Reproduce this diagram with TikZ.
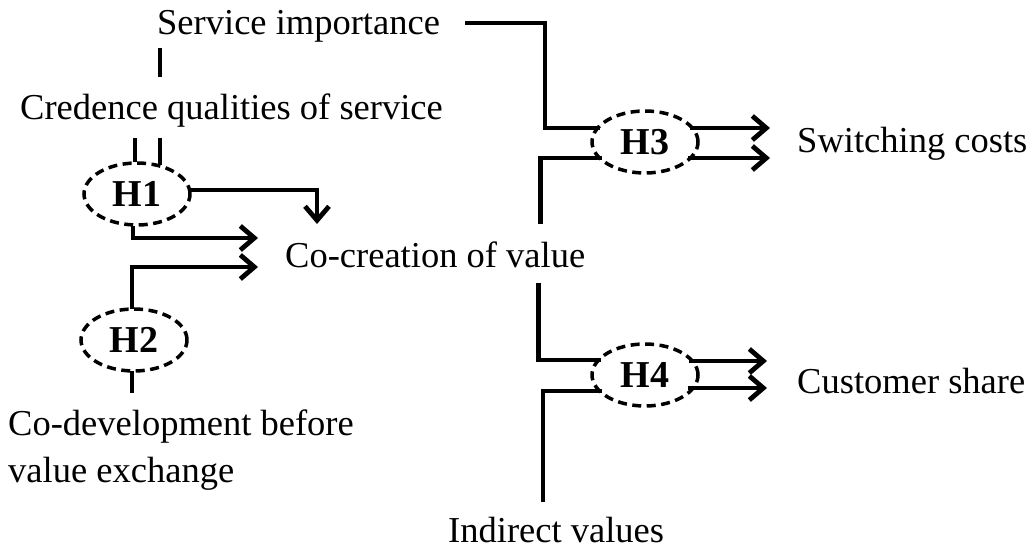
\documentclass[tikz,border=0pt]{standalone}
\usepackage{fontspec}
\setmainfont{Liberation Serif}
\usetikzlibrary{shapes.geometric,arrows.meta,calc}
\begin{document}
\begin{tikzpicture}[x=1pt,y=-1pt,
  lbl/.style={inner sep=0pt, anchor=base west, font=\fontsize{36.5}{47}\selectfont},
  hyp/.style={ellipse, draw, line width=3.5pt, dash pattern=on 9pt off 5.5pt,
    inner sep=0pt, minimum width=106pt, minimum height=62pt,
    font=\fontsize{38}{44}\selectfont\bfseries},
  link/.style={line width=4.8pt},
  arr/.style={link, -{Straight Barb[length=14pt,width=24pt]}}]
\useasboundingbox (0,0) rectangle (1033,548);

% constructs
\node[lbl] (si) at (157,35) {Service importance};
\node[lbl] (cred) at (20,120) {Credence qualities of service};
\node[lbl] (cc) at (285,267) {Co-creation of value};
\node[lbl, anchor=north west, align=left] (codev) at (8,410) {Co-development before\\value exchange};
\node[lbl] (iv) at (448,542) {Indirect values};
\node[lbl] (sc) at (797,153) {Switching costs};
\node[lbl] (cs) at (797,393) {Customer share};

% hypotheses
\node[hyp] (h1) at (137,194) {H1};
\node[hyp] (h2) at (134,340) {H2};
\node[hyp] (h3) at (645,142) {H3};
\node[hyp] (h4) at (645,375) {H4};

% H1: credence qualities, moderated by service importance
\draw[link] ($(si.base west)+(3,13)$) -- ($(cred.base west)+(140,-43)$);
\draw[link] ($(cred.base west)+(140,18)$) -- ($(h1.center)+(23,-29)$);
\draw[link] ($(cred.base west)+(115,18)$) -- ($(h1.center)+(-2,-32)$);
\draw[arr] ($(h1.center)+(54,-4)$) -| ($(cc.base west)+(32,-43)$);
\draw[arr] ($(h1.center)+(-4,32)$) |- ($(cc.base west)+(-27,-29)$);

% H2: co-development
\draw[link] ($(h2.center)+(-2,31)$) -- ($(codev.north west)+(124,-17)$);
\draw[arr] ($(h2.center)+(-2,-31)$) |- ($(cc.base west)+(-27,0)$);

% H3: switching costs
\draw[link] ($(si.base east)+(25,-12)$) -| ($(h3.center)+(-100,-14)$) -- ($(h3.center)+(-45,-14)$);
\draw[link] ($(cc.base east)+(-45,-43)$) |- ($(h3.center)+(-43,16)$);
\draw[arr] ($(h3.center)+(45,-14)$) -- ($(sc.base west)+(-27,-25)$);
\draw[arr] ($(h3.center)+(43,16)$) -- ($(sc.base west)+(-27,5)$);

% H4: customer share
\draw[link] ($(cc.base east)+(-47,16)$) |- ($(h4.center)+(-44,-15)$);
\draw[link] ($(iv.base west)+(95,-40)$) |- ($(h4.center)+(-43,16)$);
\draw[arr] ($(h4.center)+(44,-14)$) -- ($(cs.base west)+(-30,-32)$);
\draw[arr] ($(h4.center)+(43,13)$) -- ($(cs.base west)+(-30,-5)$);
\end{tikzpicture}
\end{document}
